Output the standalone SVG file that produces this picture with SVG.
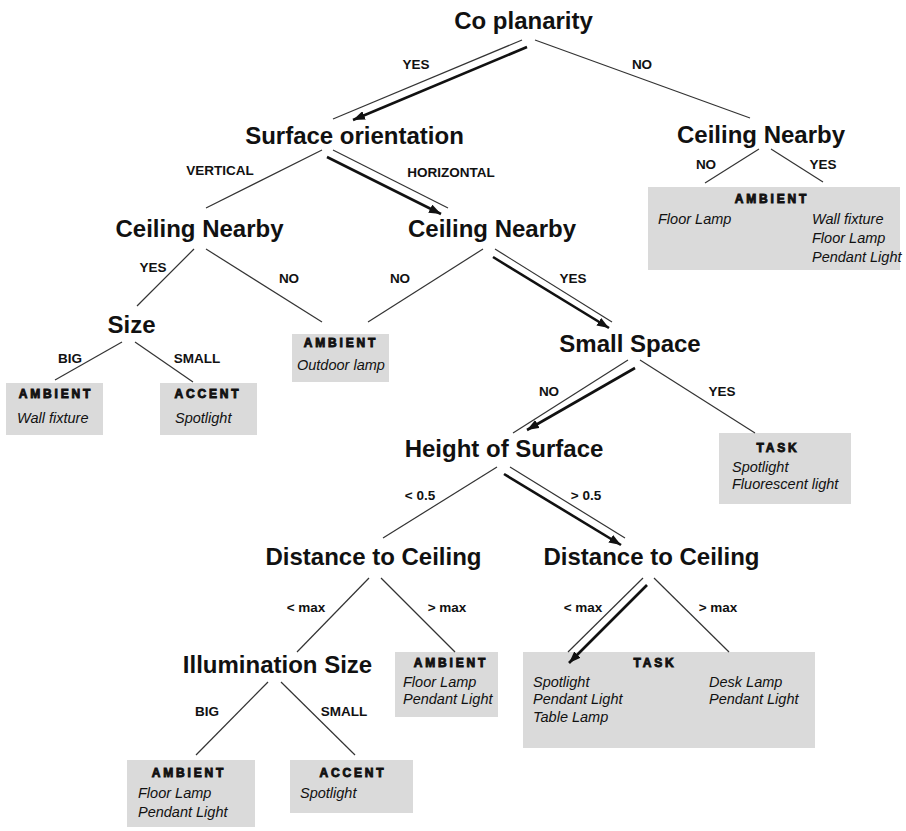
<svg xmlns="http://www.w3.org/2000/svg" width="906" height="831" viewBox="0 0 906 831">
<defs>
<style>
.n{font-family:"Liberation Sans",Arial,sans-serif;font-weight:bold;font-size:24px;fill:#111;text-anchor:middle}
.e{font-family:"Liberation Sans",Arial,sans-serif;font-weight:bold;font-size:13.5px;fill:#111;text-anchor:middle}
.h{font-family:"Liberation Sans",Arial,sans-serif;font-weight:bold;font-size:12px;letter-spacing:2.8px;fill:#111;stroke:#111;stroke-width:0.9;text-anchor:middle}
.i{font-family:"Liberation Sans",Arial,sans-serif;font-style:italic;font-size:14.5px;fill:#111}
.box{fill:#dadada}
.ln{stroke:#333;stroke-width:1.2;fill:none}
.ar{stroke:#111;stroke-width:2.6;fill:none;marker-end:url(#ah)}
</style>
<marker id="ah" markerUnits="userSpaceOnUse" markerWidth="13" markerHeight="9" refX="12" refY="4.5" orient="auto">
<path d="M0,0 L12,4.5 L0,9 Z" fill="#111"/>
</marker>
</defs>
<rect width="906" height="831" fill="#fff"/>

<g id="n-coplanarity"><text class="n" x="523.5" y="29">Co planarity</text></g>
<g id="n-surface"><text class="n" x="354.5" y="144">Surface orientation</text></g>
<g id="n-ceiling-right"><text class="n" x="761" y="143">Ceiling Nearby</text></g>
<g id="n-ceiling-left"><text class="n" x="199.5" y="237">Ceiling Nearby</text></g>
<g id="n-ceiling-mid"><text class="n" x="492" y="237">Ceiling Nearby</text></g>
<g id="n-size"><text class="n" x="131.5" y="333">Size</text></g>
<g id="n-smallspace"><text class="n" x="630" y="352">Small Space</text></g>
<g id="n-height"><text class="n" x="504" y="457">Height of Surface</text></g>
<g id="n-dist-left"><text class="n" x="373.5" y="565">Distance to Ceiling</text></g>
<g id="n-dist-right"><text class="n" x="651.5" y="565">Distance to Ceiling</text></g>
<g id="n-illum"><text class="n" x="277.5" y="673">Illumination Size</text></g>

<g id="leaf-ambient-right">
<rect class="box" x="648" y="187" width="252" height="83"/>
<text class="h" x="772" y="203">AMBIENT</text>
<text class="i" x="658" y="224">Floor Lamp</text>
<text class="i" x="812" y="224">Wall fixture</text>
<text class="i" x="812" y="243">Floor Lamp</text>
<text class="i" x="812" y="262">Pendant Light</text>
</g>
<g id="leaf-ambient-wall">
<rect class="box" x="6" y="383" width="97" height="52"/>
<text class="h" x="56" y="398">AMBIENT</text>
<text class="i" x="17" y="423">Wall fixture</text>
</g>
<g id="leaf-accent-size">
<rect class="box" x="160" y="383" width="97" height="52"/>
<text class="h" x="208" y="398">ACCENT</text>
<text class="i" x="175" y="423">Spotlight</text>
</g>
<g id="leaf-ambient-outdoor">
<rect class="box" x="292" y="334" width="97" height="48"/>
<text class="h" x="341" y="347">AMBIENT</text>
<text class="i" x="297" y="370">Outdoor lamp</text>
</g>
<g id="leaf-task-small">
<rect class="box" x="719" y="433" width="132" height="71"/>
<text class="h" x="778" y="452">TASK</text>
<text class="i" x="732" y="472">Spotlight</text>
<text class="i" x="732" y="489">Fluorescent light</text>
</g>
<g id="leaf-ambient-dist">
<rect class="box" x="395" y="652" width="103" height="65"/>
<text class="h" x="451" y="667">AMBIENT</text>
<text class="i" x="403" y="687">Floor Lamp</text>
<text class="i" x="403" y="704">Pendant Light</text>
</g>
<g id="leaf-task-big">
<rect class="box" x="523" y="652" width="292" height="96"/>
<text class="h" x="655" y="667">TASK</text>
<text class="i" x="533" y="687">Spotlight</text>
<text class="i" x="533" y="704">Pendant Light</text>
<text class="i" x="533" y="722">Table Lamp</text>
<text class="i" x="709" y="687">Desk Lamp</text>
<text class="i" x="709" y="704">Pendant Light</text>
</g>
<g id="leaf-ambient-illum">
<rect class="box" x="127" y="760" width="128" height="67"/>
<text class="h" x="189" y="777">AMBIENT</text>
<text class="i" x="138" y="798">Floor Lamp</text>
<text class="i" x="138" y="817">Pendant Light</text>
</g>
<g id="leaf-accent-illum">
<rect class="box" x="290" y="760" width="123" height="53"/>
<text class="h" x="353" y="777">ACCENT</text>
<text class="i" x="300" y="798">Spotlight</text>
</g>

<g id="connectors">
<line class="ln" x1="522" y1="40" x2="333" y2="119"/>
<line class="ar" x1="527" y1="47" x2="353" y2="120"/>
<line class="ln" x1="535" y1="40" x2="750" y2="118"/>
<line class="ln" x1="759" y1="149" x2="705" y2="183"/>
<line class="ln" x1="771" y1="149" x2="823" y2="182"/>
<line class="ln" x1="322" y1="150" x2="206" y2="208"/>
<line class="ln" x1="333" y1="150" x2="448" y2="208"/>
<line class="ar" x1="327" y1="157" x2="441" y2="214"/>
<line class="ln" x1="194" y1="249" x2="137" y2="306"/>
<line class="ln" x1="206" y1="249" x2="322" y2="322"/>
<line class="ln" x1="483" y1="249" x2="368" y2="322"/>
<line class="ln" x1="495" y1="249" x2="612" y2="322"/>
<line class="ar" x1="493" y1="257" x2="609" y2="328"/>
<line class="ln" x1="122" y1="342" x2="55" y2="380"/>
<line class="ln" x1="135" y1="342" x2="193" y2="382"/>
<line class="ln" x1="628" y1="360" x2="513" y2="433"/>
<line class="ar" x1="635" y1="368" x2="527" y2="430"/>
<line class="ln" x1="640" y1="360" x2="755" y2="433"/>
<line class="ln" x1="497" y1="467" x2="383" y2="538"/>
<line class="ln" x1="510" y1="467" x2="625" y2="538"/>
<line class="ar" x1="504" y1="474" x2="621" y2="545"/>
<line class="ln" x1="369" y1="578" x2="297" y2="652"/>
<line class="ln" x1="381" y1="578" x2="455" y2="652"/>
<line class="ln" x1="643" y1="578" x2="568" y2="652"/>
<line class="ar" x1="647" y1="585" x2="569" y2="663"/>
<line class="ln" x1="654" y1="578" x2="729" y2="652"/>
<line class="ln" x1="268" y1="682" x2="196" y2="755"/>
<line class="ln" x1="281" y1="682" x2="355" y2="755"/>

<text class="e" x="416" y="69">YES</text>
<text class="e" x="642" y="69">NO</text>
<text class="e" x="706" y="169">NO</text>
<text class="e" x="823" y="169">YES</text>
<text class="e" x="220" y="175">VERTICAL</text>
<text class="e" x="451" y="177">HORIZONTAL</text>
<text class="e" x="153" y="272">YES</text>
<text class="e" x="289" y="283">NO</text>
<text class="e" x="400" y="283">NO</text>
<text class="e" x="573" y="283">YES</text>
<text class="e" x="70" y="363">BIG</text>
<text class="e" x="197" y="363">SMALL</text>
<text class="e" x="549" y="396">NO</text>
<text class="e" x="722" y="396">YES</text>
<text class="e" x="420" y="500">&lt; 0.5</text>
<text class="e" x="586" y="500">&gt; 0.5</text>
<text class="e" x="306" y="612">&lt; max</text>
<text class="e" x="447" y="612">&gt; max</text>
<text class="e" x="583" y="612">&lt; max</text>
<text class="e" x="718" y="612">&gt; max</text>
<text class="e" x="207" y="716">BIG</text>
<text class="e" x="344" y="716">SMALL</text>
</g>
</svg>
